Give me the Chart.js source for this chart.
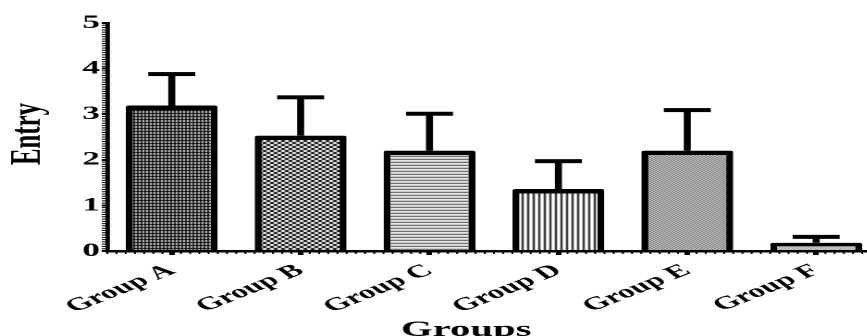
<!DOCTYPE html>
<html>
<head>
<meta charset="utf-8">
<script src="https://cdn.jsdelivr.net/npm/chart.js@4.4.1/dist/chart.umd.min.js"></script>
<style>
  html, body { margin: 0; padding: 0; background: #fff; overflow: hidden; width: 867px; height: 336px; }
  /* the chart is laid out narrow and stretched sideways, like the exported figure */
  #wrap { position: absolute; left: 0; top: 0; width: 476px; height: 336px; transform: scaleX(1.85); transform-origin: 0 0; }
</style>
</head>
<body>
<div id="wrap"><canvas id="c"></canvas></div>
<script>
// ---- data ----
const groups = ['Group A', 'Group B', 'Group C', 'Group D', 'Group E', 'Group F'];
const entryMean = [3.19, 2.53, 2.20, 1.36, 2.20, 0.18];
const entrySem = [0.69, 0.84, 0.81, 0.61, 0.89, 0.13];
const yTicks = [0, 1, 2, 3, 4, 5];
const yTitle = 'Entry';
const xTitle = 'Groups';

const SERIF = "'Liberation Serif', 'Times New Roman', serif";

// ---- hatch fills ----
function makePattern(rows, colors) {
  const c = document.createElement('canvas');
  c.width = rows[0].length; c.height = rows.length;
  const g = c.getContext('2d');
  rows.forEach((row, j) => {
    [...row].forEach((ch, i) => { g.fillStyle = colors[ch]; g.fillRect(i, j, 1, 1); });
  });
  return document.getElementById('c').getContext('2d').createPattern(c, 'repeat');
}
const pal = { k: '#000', w: '#fff', d: '#4a4a4a', l: '#d8d8d8', g: '#444', m: '#777' };
const fills = [
  makePattern(['kw', 'kw', 'kk'], pal),
  makePattern(['kkww', 'kkww', 'wwkk', 'wwkk'], pal),
  makePattern(['d', 'w', 'l'], pal),
  makePattern(['kww'], pal),
  makePattern(['gw', 'wg'], pal),
  makePattern(['mw', 'wm'], pal)
];

// ---- upper SEM bars ----
const errorBars = {
  id: 'errorBars',
  afterDatasetsDraw(chart) {
    const ctx = chart.ctx, y = chart.scales.y;
    const meta = chart.getDatasetMeta(0);
    ctx.save();
    ctx.fillStyle = '#000';
    meta.data.forEach((bar, i) => {
      const yMean = y.getPixelForValue(entryMean[i]);
      const yHigh = y.getPixelForValue(entryMean[i] + entrySem[i]);
      ctx.fillRect(bar.x - 1.9, yHigh, 3.8, yMean - yHigh);
      ctx.fillRect(bar.x - 12.7, yHigh - 2, 25.4, 4);
    });
    ctx.restore();
  }
};

// ---- minor ticks and axis titles ----
const axisExtras = {
  id: 'axisExtras',
  afterDraw(chart) {
    const { ctx, scales: { x, y }, chartArea } = chart;
    ctx.save();
    ctx.strokeStyle = '#000';
    ctx.lineWidth = 1;
    ctx.beginPath();
    const yMax = yTicks[yTicks.length - 1];
    for (let k = 0; k <= yMax * 20; k++) {
      const py = y.getPixelForValue(k / 20);
      ctx.moveTo(chartArea.left - 3, py);
      ctx.lineTo(chartArea.left, py);
    }
    const step = (x.right - x.left) / groups.length / 14;
    for (let px = x.left; px <= x.right + 0.1; px += step) {
      ctx.moveTo(px, chartArea.bottom);
      ctx.lineTo(px, chartArea.bottom + 3);
    }
    ctx.stroke();

    ctx.fillStyle = '#000';
    // y title, tall and narrow
    ctx.save();
    ctx.translate(21.5, 134);
    ctx.rotate(-Math.PI / 2);
    ctx.scale(1.08, 1);
    ctx.font = `bold 23px ${SERIF}`;
    ctx.textAlign = 'center';
    ctx.textBaseline = 'alphabetic';
    ctx.fillText(yTitle, 0, 0);
    ctx.restore();
    // x title
    ctx.font = `bold 22px ${SERIF}`;
    ctx.textAlign = 'center';
    ctx.textBaseline = 'alphabetic';
    ctx.fillText(xTitle, 252, 336);
    ctx.restore();
  }
};

new Chart(document.getElementById('c'), {
  type: 'bar',
  data: {
    labels: groups,
    datasets: [{
      data: entryMean,
      backgroundColor: fills,
      borderColor: '#000',
      borderWidth: { top: 4.5, left: 3.8, right: 3.8, bottom: 0 },
      borderSkipped: 'start',
      borderRadius: 1.5,
      barPercentage: 0.713,
      categoryPercentage: 1.0
    }]
  },
  options: {
    responsive: true,
    maintainAspectRatio: false,
    devicePixelRatio: 2,
    animation: false,
    layout: { padding: { top: 23, right: 0, left: 0, bottom: 0 } },
    plugins: { legend: { display: false }, tooltip: { enabled: false } },
    scales: {
      x: {
        offset: true,
        grid: { display: true, offset: false, drawOnChartArea: false, color: '#000', lineWidth: 3, tickLength: 4 },
        border: { display: true, color: '#000', width: 2.5 },
        ticks: {
          autoSkip: false, maxRotation: 36, minRotation: 36, padding: 5,
          color: '#000', font: { family: SERIF, size: 18, weight: 'bold' }
        },
        afterFit(scale) { scale.height = 85; }
      },
      y: {
        min: yTicks[0], max: yTicks[yTicks.length - 1],
        grid: { display: true, drawOnChartArea: false, color: '#000', lineWidth: 2, tickLength: 3 },
        border: { display: true, color: '#000', width: 2.4 },
        ticks: {
          stepSize: 1, padding: 1,
          color: '#000', font: { family: SERIF, size: 19, weight: 'bold' }
        },
        afterFit(scale) { scale.width = 58; }
      }
    }
  },
  plugins: [errorBars, axisExtras]
});
</script>
</body>
</html>
